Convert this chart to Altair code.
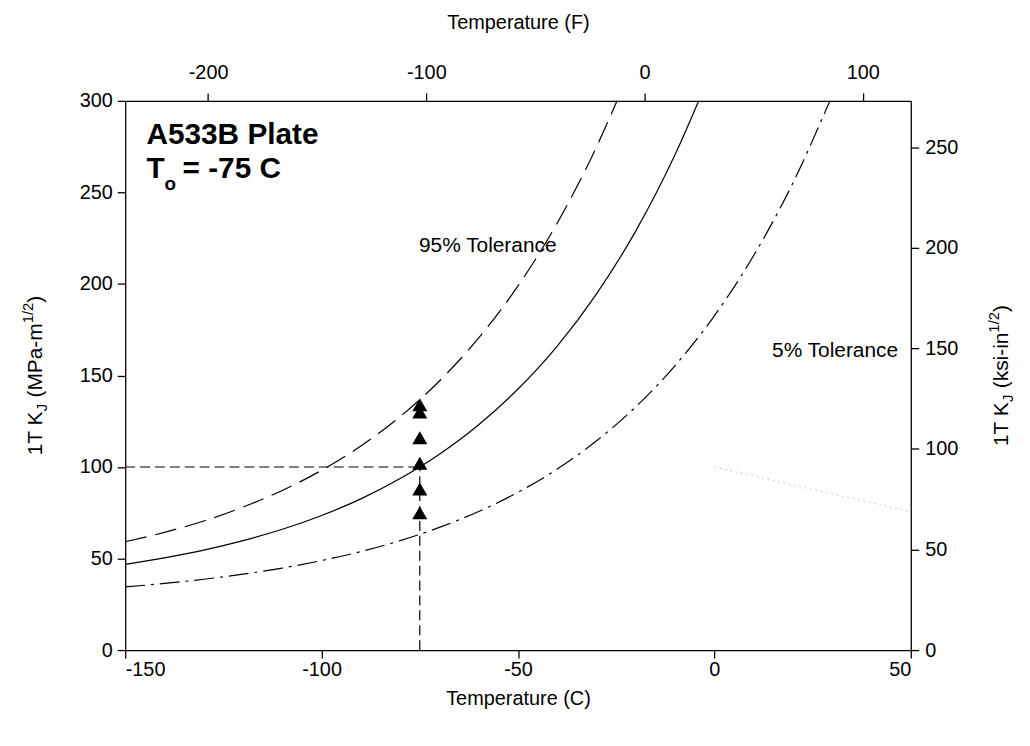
import altair as alt
import pandas as pd

FONT = "Liberation Sans, Arial, Helvetica, sans-serif"

# ---- data ----
# median (solid) master curve
med_t = [-150, -140, -130, -120, -110, -100, -90, -80, -70, -60, -50, -40, -30, -20, -10, -4]
med_k = [46.8, 50.4, 54.6, 59.8, 66.0, 73.5, 82.6, 93.7, 107.0, 123.1, 142.6, 166.1, 194.6, 229.0, 270.7, 300.0]
# 95% tolerance (long dash)
up_t = [-150, -140, -130, -120, -110, -100, -90, -80, -70, -60, -50, -40, -30, -24.8]
up_k = [59.2, 64.3, 70.5, 78.1, 87.2, 98.2, 111.5, 127.5, 147.0, 170.5, 198.9, 233.3, 274.9, 300.0]
# 5% tolerance (dash-dot)
lo_t = [-150, -140, -130, -120, -110, -100, -90, -80, -70, -60, -50, -40, -30, -20, -10, 0, 10, 20, 29.4]
lo_k = [34.5, 36.4, 38.7, 41.5, 44.8, 48.9, 53.8, 59.8, 67.0, 75.7, 86.2, 98.9, 114.3, 132.9, 155.4, 182.6, 215.5, 255.2, 300.0]
# test data at T = -75 C
pt_t = [-75, -75, -75, -75, -75, -75]
pt_k = [134, 130, 116, 102, 88, 75]
# T0 reference lines
t0 = -75
k100 = 100
# faint dotted line at right
gray_t = [0, 50]
gray_k = [100, 75.5]

# axis ticks
x_ticks = [-150, -100, -50, 0, 50]
y_ticks = [0, 50, 100, 150, 200, 250, 300]
f_ticks = [-200, -100, 0, 100]
ksi_ticks = [0, 50, 100, 150, 200, 250]

W, H = 791, 553
LABEL = 20
ANN = 21
HYPHEN = "'' + datum.value"

xs = alt.Scale(domain=[-150, 50], nice=False, zero=False)
ys = alt.Scale(domain=[0, 300], nice=False, zero=False)

X = alt.X("t:Q", scale=xs, title="Temperature (C)",
          axis=alt.Axis(values=x_ticks, labelPadding=2, titlePadding=9, labelExpr=HYPHEN))
Y = alt.Y("k:Q", scale=ys, title=None,
          axis=alt.Axis(values=y_ticks, labelPadding=5, labelExpr=HYPHEN))


def line(ts, ks, dash=None, color="black", width=1.2):
    df = pd.DataFrame({"t": ts, "k": ks})
    kw = dict(color=color, strokeWidth=width, interpolate="monotone")
    if dash:
        kw["strokeDash"] = dash
    return alt.Chart(df).mark_line(**kw).encode(x=X, y=Y)


lo = line(lo_t, lo_k, dash=[20, 6, 3, 6])
med = line(med_t, med_k)
up = line(up_t, up_k, dash=[22, 9])
ref_h = line([-150, t0], [k100, k100], dash=[10, 5], width=1.2)
ref_v = line([t0, t0], [0, k100], dash=[10, 5], width=1.2)
gray = line(gray_t, gray_k, dash=[1.5, 4], color="#bdbdbd", width=1)

pts = alt.Chart(pd.DataFrame({"t": pt_t, "k": pt_k})).mark_point(
    shape="triangle-up", filled=True, color="black", opacity=1, size=230
).encode(x=X, y=Y)


def dtext(t, k, s, size, weight="normal"):
    return alt.Chart(pd.DataFrame({"t": [t], "k": [k], "s": [s]})).mark_text(
        align="left", baseline="alphabetic", font=FONT, fontSize=size,
        fontWeight=weight, color="black"
    ).encode(x=X, y=Y, text="s:N")


ann = [
    dtext(-144.6, 276.3, "A533B Plate", 30, "bold"),
    dtext(-144.6, 257.6, "T", 30, "bold"),
    dtext(-140.0, 251.5, "o", 19, "bold"),
    dtext(-135.4, 257.6, "= -75 C", 30, "bold"),
    dtext(-75.2, 217.7, "95% Tolerance", ANN),
    dtext(14.7, 160.1, "5% Tolerance", ANN),
]

# rotated axis titles with sub/superscripts (layout only)
AW = {'1': 556, 'T': 611, ' ': 278, 'K': 667, 'J': 500, '(': 333, 'M': 833, 'P': 667,
      'a': 556, '-': 333, 'm': 833, '/': 278, '2': 556, ')': 333, 'k': 500, 's': 500,
      'i': 222, 'n': 556}
one = pd.DataFrame({"a": [0]})


def rot_title(pieces, xb, yc, f, fs):
    # pieces: (text, kind); kind "gap" is just spacing in em of the main font
    widths = []
    for txt, kind in pieces:
        if kind == "gap":
            widths.append(txt * f)
            continue
        size = f if kind == "main" else fs
        widths.append(sum(AW.get(c, 556) for c in txt) * size / 1000.0)
    y = yc + sum(widths) / 2.0
    out = []
    for (txt, kind), w in zip(pieces, widths):
        if kind != "gap":
            size = f if kind == "main" else fs
            shift = 0 if kind == "main" else (5 if kind == "sub" else -9)
            out.append(alt.Chart(one).mark_text(
                angle=270, align="left", baseline="alphabetic", font=FONT,
                fontSize=size, color="black"
            ).encode(x=alt.value(xb + shift), y=alt.value(y), text=alt.value(txt)))
        y -= w
    return out


TF, TS = 21, 15
left_title = rot_title([("1T K", "main"), ("J", "sub"), (0.3, "gap"), ("(MPa-m", "main"),
                        ("1/2", "sup"), (")", "main")], -84, H / 2, TF, TS)
right_title = rot_title([("1T K", "main"), ("J", "sub"), (0.3, "gap"), ("(ksi-in", "main"),
                         ("1/2", "sup"), (")", "main")], 889, H / 2, TF, TS)

inner = alt.layer(lo, med, up, ref_h, ref_v, gray, pts, *ann, *left_title, *right_title)

# secondary axes: Fahrenheit on top, ksi-in^1/2 on right
sec = alt.Chart(pd.DataFrame({"F": [-238.0, 122.0], "ksi": [0.0, 273.0]})).mark_point(
    opacity=0
).encode(
    x=alt.X("F:Q", scale=alt.Scale(domain=[-238, 122], nice=False, zero=False),
            title="Temperature (F)",
            axis=alt.Axis(orient="top", values=f_ticks, labelPadding=11, titlePadding=30,
                          labelExpr=HYPHEN)),
    y=alt.Y("ksi:Q", scale=alt.Scale(domain=[0, 273], nice=False, zero=False),
            title=None,
            axis=alt.Axis(orient="right", values=ksi_ticks, labelPadding=6, labelExpr=HYPHEN)),
)

chart = alt.layer(inner, sec).resolve_scale(x="independent", y="independent").properties(
    width=W, height=H, autosize="none",
    padding={"left": 118, "top": 91, "right": 112, "bottom": 85},
).configure_view(stroke=None).configure_axis(
    grid=False, domainColor="black", domainWidth=1.3, tickColor="black", tickWidth=1.3,
    tickSize=8, labelFont=FONT, labelFontSize=LABEL, labelColor="black",
    titleFont=FONT, titleFontSize=LABEL, titleFontWeight="normal", titleColor="black",
)

chart.save("out.html", embed_options={"renderer": "svg", "actions": False})
